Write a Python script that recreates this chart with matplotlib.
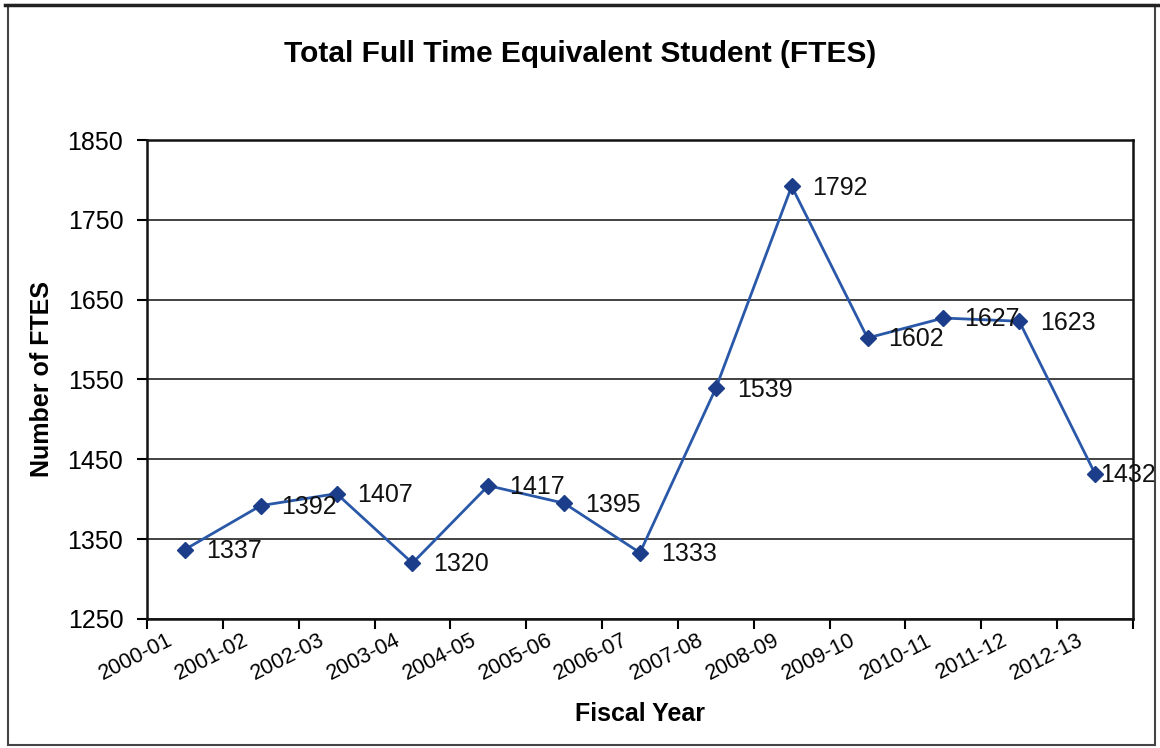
import matplotlib.pyplot as plt
import matplotlib.transforms as mtransforms
import numpy as np
from matplotlib.patches import Rectangle

plt.rcParams['font.family'] = ['Liberation Sans', 'DejaVu Sans']

years = ['2000-01', '2001-02', '2002-03', '2003-04', '2004-05', '2005-06', '2006-07',
         '2007-08', '2008-09', '2009-10', '2010-11', '2011-12', '2012-13']
ftes = [1337, 1392, 1407, 1320, 1417, 1395, 1333, 1539, 1792, 1602, 1627, 1623, 1432]
yticks = [1250, 1350, 1450, 1550, 1650, 1750, 1850]

fig = plt.figure(figsize=(11.6, 7.48), dpi=100)
ax = fig.add_axes([0.1267, 0.1725, 0.85, 0.6403])

# chart border
fig.patches.append(Rectangle((0.007, 0.004), 0.989, 0.989, transform=fig.transFigure,
                             fill=False, edgecolor='#444444', linewidth=1.5))
fig.add_artist(plt.Line2D([0.004, 0.998], [0.993, 0.993], transform=fig.transFigure,
                          color='#222222', linewidth=2.5))

x = np.arange(len(years))
ax.plot(x, ftes, color='#2A58A8', linewidth=2, marker='D', markersize=8,
        markerfacecolor='#1C3D8A', markeredgecolor='#1C3D8A', zorder=3)

for xi, v in zip(x, ftes):
    # last label is pulled in tight to the marker so it stays inside the chart
    dx = 4 if xi == len(years) - 1 else 15
    ax.annotate(str(v), (xi, v), xytext=(dx, -1), textcoords='offset points',
                ha='left', va='center', fontsize=18, color='#111111', zorder=4,
                annotation_clip=False)

ax.set_xlim(-0.5, len(years) - 0.5)
ax.set_ylim(1250, 1850)
ax.set_yticks(yticks)
ax.set_xticks(np.arange(len(years) + 1) - 0.5)
ax.set_xticklabels([])
ax.set_xticks(x, minor=True)
ax.set_xticklabels(years, minor=True, rotation=27, ha='right', va='top',
                   rotation_mode='anchor', fontsize=15.5)
ax.tick_params(axis='x', which='minor', length=0, pad=8)
ax.tick_params(axis='x', which='major', length=7, width=1.5, direction='out')
ax.tick_params(axis='y', length=7, width=1.5, direction='out', labelsize=18, pad=10)

# nudge category labels left of their centres
shift = mtransforms.ScaledTranslation(-18 / 100, 0, fig.dpi_scale_trans)
for lbl in ax.get_xticklabels(minor=True):
    lbl.set_transform(lbl.get_transform() + shift)

ax.grid(axis='y', color='#222222', linewidth=1.2)
ax.set_axisbelow(True)
for sp in ax.spines.values():
    sp.set_linewidth(1.8)
    sp.set_color('#111111')

ax.set_ylabel('Number of FTES', fontsize=18, fontweight='bold', labelpad=10)
ax.set_xlabel('Fiscal Year', fontsize=18, fontweight='bold', labelpad=12)
fig.text(0.5, 0.928, 'Total Full Time Equivalent Student (FTES)', ha='center',
         va='center', fontsize=21.5, fontweight='bold')

fig.savefig('out.png', dpi=100)
